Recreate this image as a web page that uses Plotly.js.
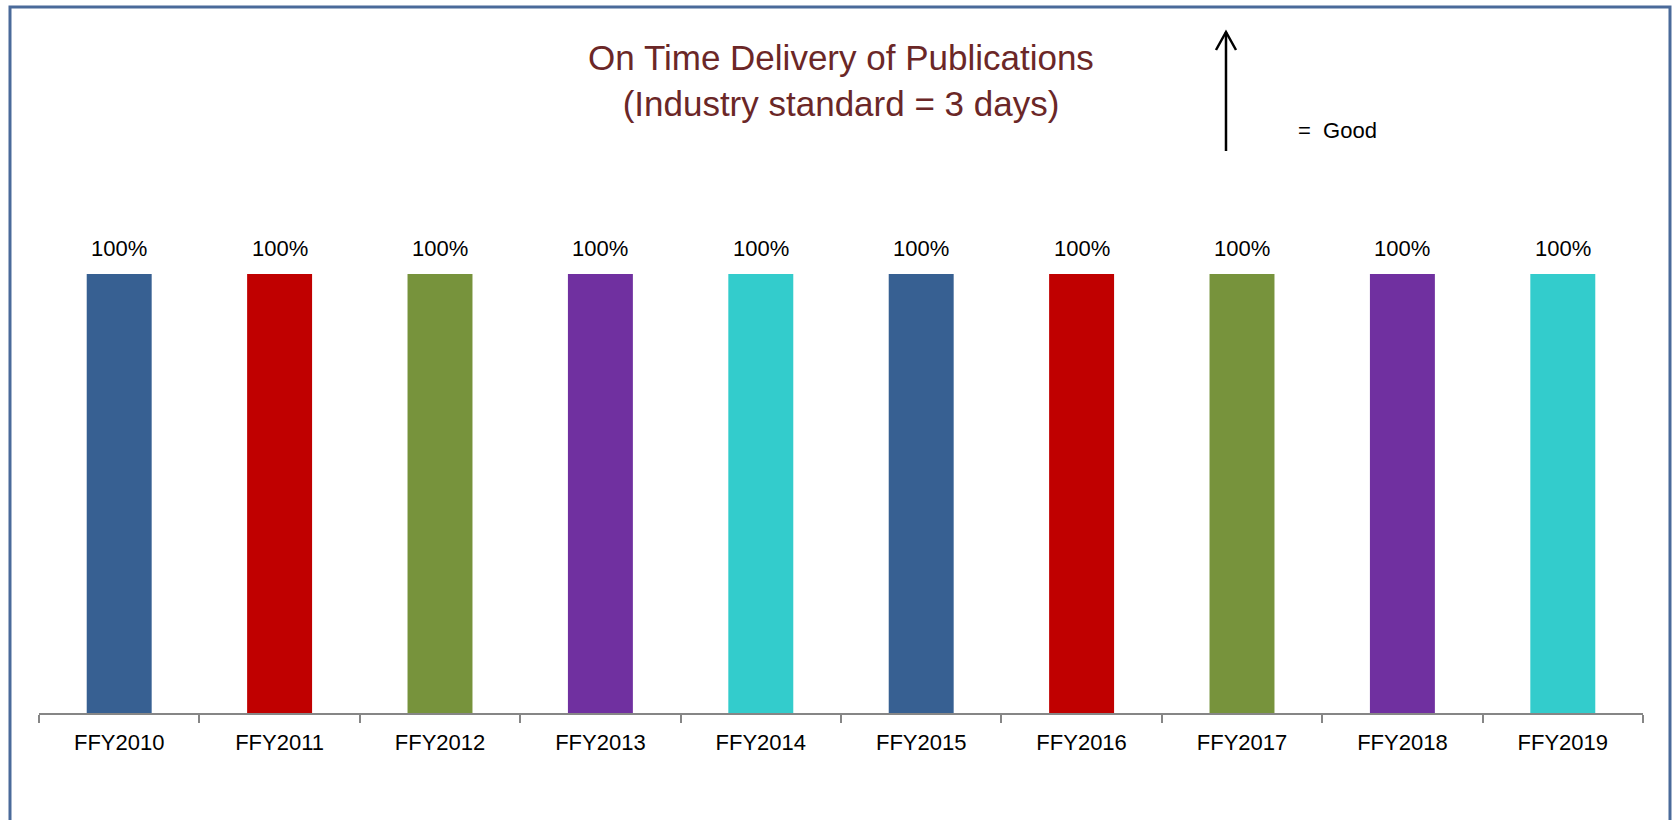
<!DOCTYPE html>
<html>
<head>
<meta charset="utf-8">
<script src="https://cdn.plot.ly/plotly-3.0.1.min.js"></script>
<style>
  html, body { margin: 0; padding: 0; background: #ffffff; }
  #chart { width: 1679px; height: 820px; }
</style>
</head>
<body>
<div id="chart"></div>
<script>
// ---- data ----
const categories = ['FFY2010', 'FFY2011', 'FFY2012', 'FFY2013', 'FFY2014',
                    'FFY2015', 'FFY2016', 'FFY2017', 'FFY2018', 'FFY2019'];
const onTimeShare = [1.00, 1.00, 1.00, 1.00, 1.00, 1.00, 1.00, 1.00, 1.00, 1.00];
const titleLines = ['On Time Delivery of Publications', '(Industry standard = 3 days)'];
const legendNote = '=  Good';

// ---- style ----
const barColors = ['#376092', '#c00000', '#77933c', '#7030a0', '#33cccc',
                   '#376092', '#c00000', '#77933c', '#7030a0', '#33cccc'];
const sans = '"Liberation Sans", Arial, sans-serif';

const trace = {
  type: 'bar',
  x: categories,
  y: onTimeShare,
  width: 0.405,
  marker: { color: barColors, line: { width: 0 } },
  hoverinfo: 'x+y',
  showlegend: false
};

const valueLabels = categories.map((c, i) => ({
  x: c, y: onTimeShare[i], xref: 'x', yref: 'y',
  text: Math.round(onTimeShare[i] * 100) + '%',
  showarrow: false, yanchor: 'middle', yshift: 26,
  font: { family: sans, size: 22, color: '#000000' }
}));

const layout = {
  width: 1679, height: 820,
  margin: { l: 39, r: 36, t: 274, b: 107, pad: 0 },
  paper_bgcolor: '#ffffff', plot_bgcolor: '#ffffff',
  title: {
    text: titleLines.join('<br>'),
    font: { family: sans, size: 35, color: '#6b2727' },
    xref: 'paper', x: 0.5, xanchor: 'center',
    yref: 'container', y: 1 - 70 / 820, yanchor: 'middle'
  },
  xaxis: {
    type: 'category',
    showline: true, linecolor: '#868686', linewidth: 2,
    ticks: 'outside', ticklen: 8, tickwidth: 2, tickcolor: '#868686',
    tickson: 'boundaries',
    ticklabelstandoff: 9,
    showgrid: false, zeroline: false,
    tickfont: { family: sans, size: 22, color: '#000000' },
    fixedrange: true
  },
  yaxis: {
    range: [0, 1], visible: false, showgrid: false, zeroline: false, fixedrange: true
  },
  shapes: [
    // outer frame
    { type: 'rect', xref: 'paper', yref: 'paper',
      x0: -0.01808, x1: 1.01683, y0: -0.2665, y1: 1.6082,
      line: { color: '#4a6a9a', width: 3 }, fillcolor: 'rgba(0,0,0,0)' },
    // "good" arrow shaft
    { type: 'line', xref: 'paper', yref: 'paper',
      x0: 0.74002, x1: 0.74002, y0: 1.28018, y1: 1.55125,
      line: { color: '#000000', width: 2.5 } },
    // arrow head
    { type: 'path', xref: 'paper', yref: 'paper',
      path: 'M 0.73379 1.51025 L 0.74002 1.55125 L 0.74626 1.51025',
      line: { color: '#000000', width: 2.5 } }
  ],
  annotations: valueLabels.concat([
    { xref: 'paper', yref: 'paper', x: 0.78367, y: 1.3264,
      xanchor: 'left', yanchor: 'middle', showarrow: false,
      text: legendNote, font: { family: sans, size: 22, color: '#000000' } }
  ])
};

Plotly.newPlot('chart', [trace], layout, { displayModeBar: false, staticPlot: true });
</script>
</body>
</html>
